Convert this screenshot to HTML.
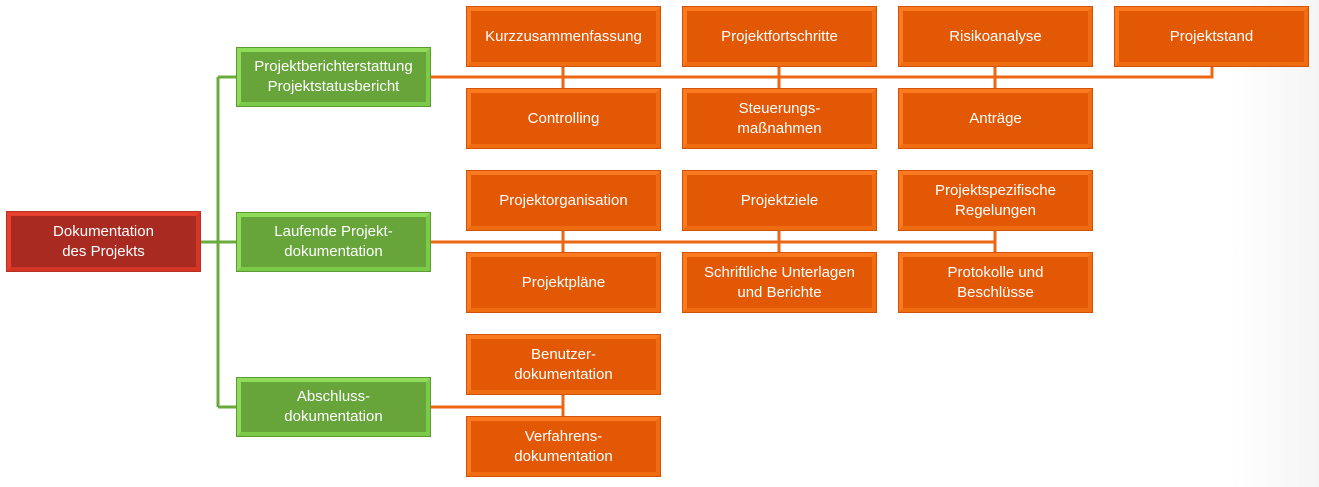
<!DOCTYPE html>
<html><head><meta charset="utf-8"><style>
html,body{margin:0;padding:0}
body{width:1319px;height:487px;position:relative;overflow:hidden;background:linear-gradient(90deg,#fff 0,#fff 1230px,#f5f5f5 1319px);font-family:"Liberation Sans",sans-serif}
.b{position:absolute;box-sizing:border-box;display:flex;align-items:center;justify-content:center;text-align:center;color:#fff;font-size:15px;line-height:20px;border:4px solid;}
.o{background:#e35805;border-color:#fb7a1f #f06c10 #f06c10 #fb7a1f;box-shadow:0 0 0 1px #d2520a}
.g{background:#67a53b;border-color:#8fdc5a #7ccb48 #7ccb48 #8fdc5a;box-shadow:0 0 0 1px #5b9a34}
.r{background:#a82a20;border-color:#e8402f #d63526 #d63526 #e8402f;box-shadow:0 0 0 1px #b73024}
svg{position:absolute;left:0;top:0}
</style></head><body>
<svg width="1319" height="487">
<g stroke="#6aab3c" stroke-width="3" fill="none">
<path d="M200 242H236M218 77V407M218 77H236M218 407H236"/>
</g>
<g stroke="#ec6613" stroke-width="3" fill="none">
<path d="M430 77H1212V66M563 66V89M779 66V89M995 66V89"/>
<path d="M430 242H995M563 230V253M779 230V253M995 230V253"/>
<path d="M430 407H563M563 394V417"/>
</g>
</svg>
<div class="b r" style="left:7px;top:212px;width:193px;height:59px">Dokumentation<br>des Projekts</div>
<div class="b g" style="left:237px;top:48px;width:193px;height:58px">Projektberichterstattung<br>Projektstatusbericht</div>
<div class="b g" style="left:237px;top:213px;width:193px;height:58px">Laufende Projekt-<br>dokumentation</div>
<div class="b g" style="left:237px;top:378px;width:193px;height:58px">Abschluss-<br>dokumentation</div>

<div class="b o" style="left:467px;top:7px;width:193px;height:59px">Kurzzusammenfassung</div>
<div class="b o" style="left:683px;top:7px;width:193px;height:59px">Projektfortschritte</div>
<div class="b o" style="left:899px;top:7px;width:193px;height:59px">Risikoanalyse</div>
<div class="b o" style="left:1115px;top:7px;width:193px;height:59px">Projektstand</div>
<div class="b o" style="left:467px;top:89px;width:193px;height:59px">Controlling</div>
<div class="b o" style="left:683px;top:89px;width:193px;height:59px">Steuerungs-<br>maßnahmen</div>
<div class="b o" style="left:899px;top:89px;width:193px;height:59px">Anträge</div>

<div class="b o" style="left:467px;top:171px;width:193px;height:59px">Projektorganisation</div>
<div class="b o" style="left:683px;top:171px;width:193px;height:59px">Projektziele</div>
<div class="b o" style="left:899px;top:171px;width:193px;height:59px">Projektspezifische<br>Regelungen</div>
<div class="b o" style="left:467px;top:253px;width:193px;height:59px">Projektpläne</div>
<div class="b o" style="left:683px;top:253px;width:193px;height:59px">Schriftliche Unterlagen<br>und Berichte</div>
<div class="b o" style="left:899px;top:253px;width:193px;height:59px">Protokolle und<br>Beschlüsse</div>

<div class="b o" style="left:467px;top:335px;width:193px;height:59px">Benutzer-<br>dokumentation</div>
<div class="b o" style="left:467px;top:417px;width:193px;height:59px">Verfahrens-<br>dokumentation</div>
</body></html>
